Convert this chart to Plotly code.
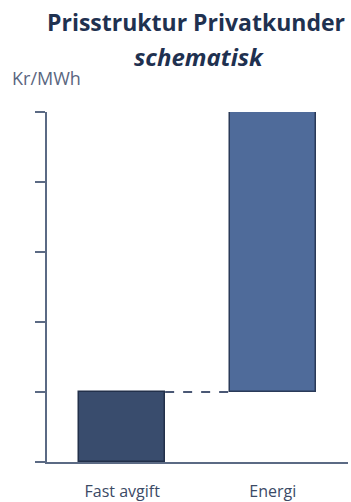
import plotly.graph_objects as go

categories = ["Fast avgift", "Energi"]
bases = [0, 1]
heights = [1, 4]
fill_colors = ["#394c6d", "#4f6b9a"]
line_colors = ["#22304a", "#2a3a58"]
y_ticks = [0, 1, 2, 3, 4, 5]
bar_width = 0.57

FONT = "Open Sans"
axis_color = "#5b6a84"

fig = go.Figure()
fig.add_trace(go.Bar(
    x=categories, y=heights, base=bases, width=bar_width,
    marker=dict(color=fill_colors, line=dict(color=line_colors, width=1.5)),
    hoverinfo="skip",
))

# connector from top of first bar to bottom of second bar
top_first = bases[0] + heights[0]
fig.add_shape(type="line", xref="x", yref="y",
              x0=0 + bar_width / 2, x1=1 - bar_width / 2,
              y0=top_first, y1=top_first,
              line=dict(color="#4a5875", width=2, dash="dash"))

fig.update_layout(
    width=351, height=502,
    margin=dict(l=47, r=3, t=112, b=40),
    plot_bgcolor="white", paper_bgcolor="white",
    showlegend=False,
    bargap=0,
    xaxis=dict(
        type="category", range=[-0.5, 1.5], automargin=False,
        showline=True, linecolor=axis_color, linewidth=2,
        showgrid=False, zeroline=False,
        ticks="outside", ticklen=14, tickcolor="rgba(0,0,0,0)",
        tickfont=dict(family=FONT, size=16, color="#3b4a66"),
    ),
    yaxis=dict(
        range=[0, 5], automargin=False,
        showline=True, linecolor=axis_color, linewidth=2,
        showgrid=False, zeroline=False,
        tickvals=y_ticks, ticktext=["" for _ in y_ticks],
        ticks="outside", ticklen=10, tickwidth=2, tickcolor=axis_color,
    ),
    annotations=[
        dict(text="<b>Prisstruktur Privatkunder</b>", xref="paper", yref="paper",
             x=(196 - 47) / 301, y=(462 - 22) / 350, xanchor="center", yanchor="middle",
             showarrow=False, font=dict(family=FONT, size=23, color="#1f3150")),
        dict(text="<b><i>schematisk</i></b>", xref="paper", yref="paper",
             x=(199 - 47) / 301, y=(462 - 56) / 350, xanchor="center", yanchor="middle",
             showarrow=False, font=dict(family=FONT, size=24, color="#1f3150")),
        dict(text="Kr/MWh", xref="paper", yref="paper",
             x=(10 - 47) / 301, y=(462 - 78) / 350, xanchor="left", yanchor="middle",
             showarrow=False, font=dict(family=FONT, size=18, color="#5a6680")),
    ],
)

fig.write_html("out.html")
